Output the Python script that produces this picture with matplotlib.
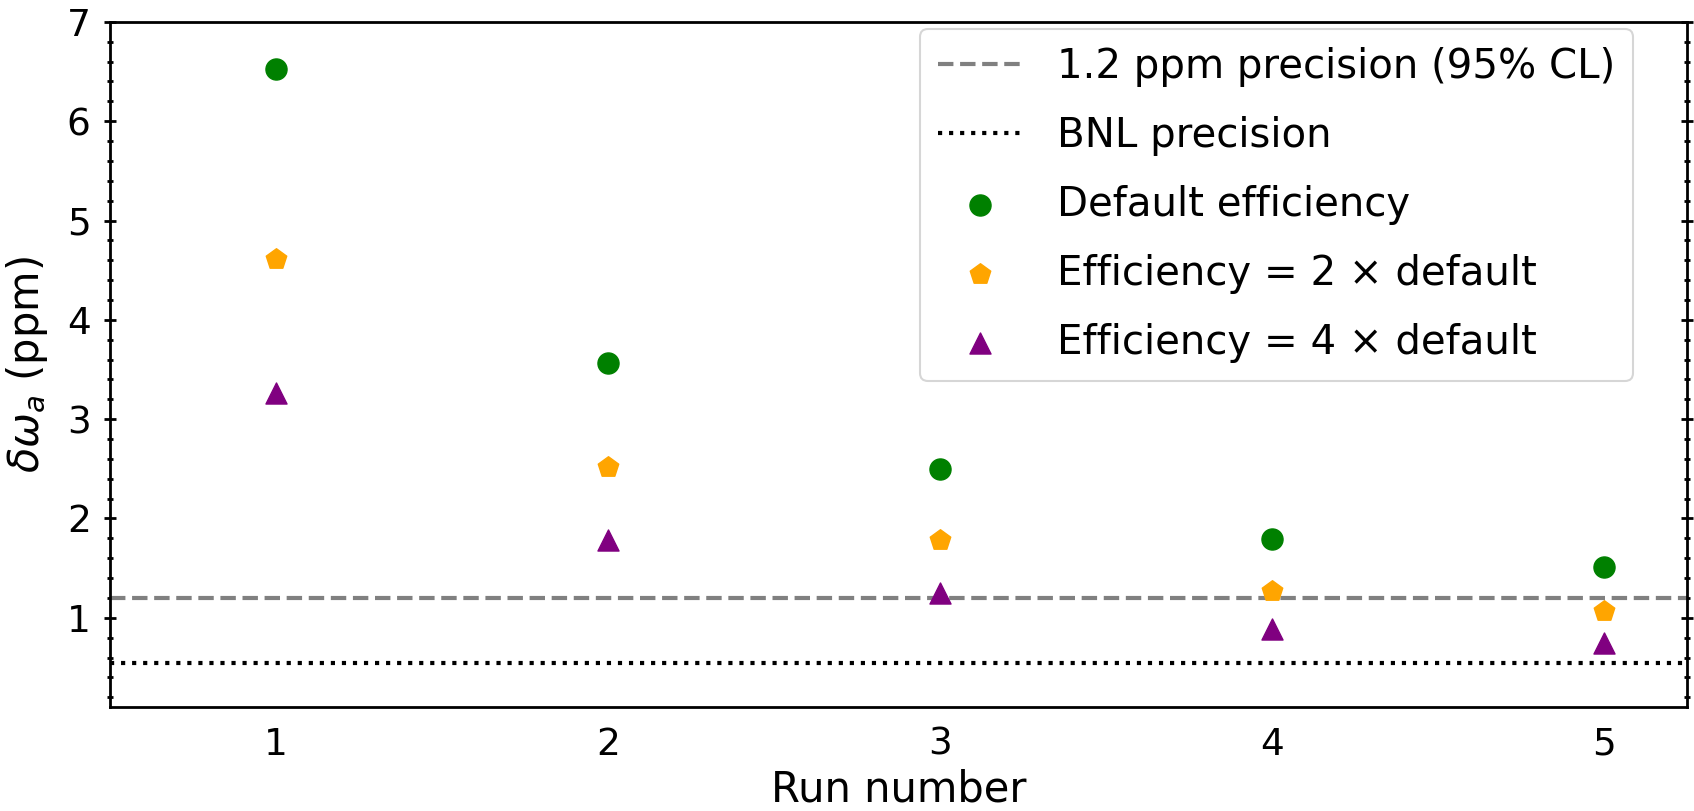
import matplotlib
matplotlib.use("Agg")
import matplotlib.pyplot as plt
from matplotlib.ticker import MultipleLocator

runs = [1, 2, 3, 4, 5]
default_eff = [6.53, 3.57, 2.50, 1.79, 1.51]
eff_2x = [4.61, 2.52, 1.78, 1.27, 1.07]
eff_4x = [3.26, 1.78, 1.25, 0.89, 0.75]
target_precision = 1.2
bnl_precision = 0.54

fig = plt.figure(figsize=(16.94, 8.11), dpi=100)
ax = fig.add_axes([0.065, 0.128, 0.9309, 0.845])

ax.axhline(target_precision, color="gray", linestyle="--", linewidth=3,
           label="1.2 ppm precision (95% CL)")
ax.axhline(bnl_precision, color="black", linestyle=":", linewidth=3,
           label="BNL precision")
ax.scatter(runs, default_eff, marker="o", s=230, color="green",
           label="Default efficiency", zorder=3)
ax.scatter(runs, eff_2x, marker="p", s=240, color="orange",
           label="Efficiency = 2 × default", zorder=3)
ax.scatter(runs, eff_4x, marker="^", s=230, color="purple",
           label="Efficiency = 4 × default", zorder=3)

ax.set_xlim(0.5, 5.25)
ax.set_ylim(0.1, 7)
ax.set_xticks(runs)
ax.yaxis.set_major_locator(MultipleLocator(1))
ax.yaxis.set_minor_locator(MultipleLocator(0.2))

ax.tick_params(axis="y", which="both", direction="inout", left=True,
               right=True, width=2)
ax.tick_params(axis="y", which="major", length=8, labelsize=27, pad=10)
ax.tick_params(axis="y", which="minor", length=5)
ax.tick_params(axis="x", which="both", length=0, labelsize=27, pad=14)

for sp in ax.spines.values():
    sp.set_linewidth(2)

ax.set_xlabel("Run number", fontsize=30, labelpad=4)
ax.set_ylabel(r"$\delta\omega_a$ (ppm)", fontsize=30, labelpad=12)

leg = ax.legend(loc="upper right", bbox_to_anchor=(0.966, 0.99),
                borderaxespad=0, fontsize=29, handlelength=2.05,
                handletextpad=0.9, labelspacing=0.72, borderpad=0.45,
                framealpha=0.8)
leg.get_frame().set_linewidth(1.5)

fig.savefig("out.png", dpi=100)
